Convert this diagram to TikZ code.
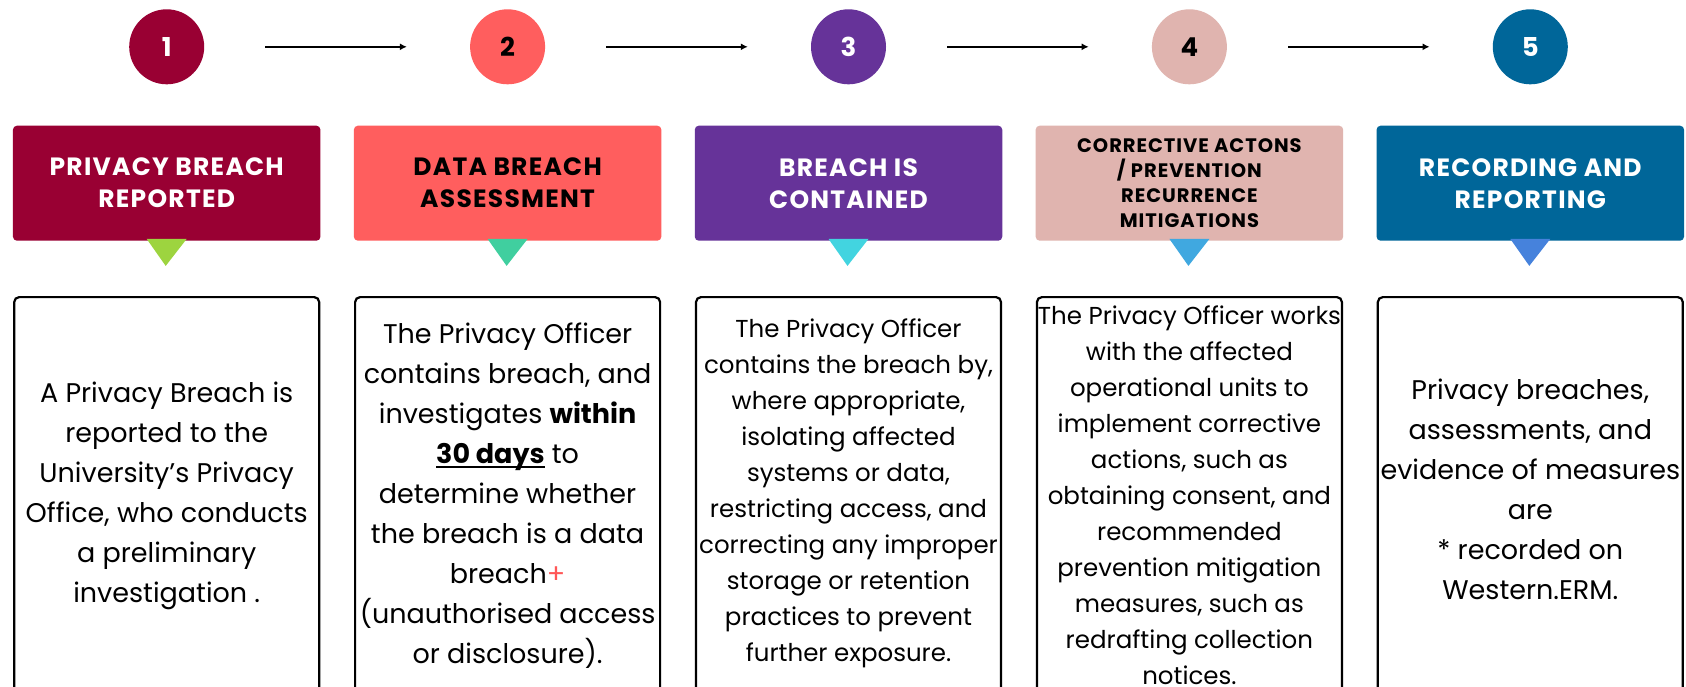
\documentclass[tikz,border=0pt]{standalone}
\usepackage{fontspec}
\setmainfont{Poppins}
\newfontfamily\headfont{Poppins}[LetterSpace=5]
\usetikzlibrary{arrows.meta}
\definecolor{cA}{HTML}{990033}
\definecolor{cB}{HTML}{FF5E5E}
\definecolor{cC}{HTML}{663399}
\definecolor{cD}{HTML}{E0B4AF}
\definecolor{cE}{HTML}{006699}
\definecolor{tA}{HTML}{9DD43F}
\definecolor{tB}{HTML}{40CF9F}
\definecolor{tC}{HTML}{42D4E0}
\definecolor{tD}{HTML}{40A8E0}
\definecolor{tE}{HTML}{4682DC}
\definecolor{cPlus}{HTML}{FF5757}
\newcommand\ulbox[1]{\setbox0\hbox{#1}\rlap{\rule[-4pt]{\wd0}{1.8pt}}\box0{}}
\begin{document}
\begin{tikzpicture}[x=1pt,y=-1pt,
  num/.style={circle,minimum size=75pt,inner sep=0pt,font=\fontsize{26}{30}\selectfont\bfseries},
  head/.style={rectangle,rounded corners=4pt,minimum width=307.5pt,minimum height=115pt,inner sep=0pt,align=center,font=\headfont\fontsize{25}{32}\selectfont\bfseries},
  heads/.style={head,font=\headfont\fontsize{19.5}{25}\selectfont\bfseries},
  frame/.style={draw=black,line width=2.2pt,rounded corners=5pt,minimum width=305pt,minimum height=404pt,inner sep=0pt,anchor=north},
  body/.style={align=center,inner sep=0pt,font=\fontsize{27}{40}\selectfont},
  bodys/.style={align=center,inner sep=0pt,font=\fontsize{24.5}{36}\selectfont},
  flow/.style={line width=2pt,-{Latex[length=7pt,width=7pt]}},
]
\clip (0,0) rectangle (1686,686);
\fill[white] (0,0) rectangle (1686,686);

% circles
\node[num,fill=cA,text=white] (n1) at (166.7,46.8) {1};
\node[num,fill=cB,text=black] (n2) at (507.6,46.8) {2};
\node[num,fill=cC,text=white] (n3) at (848.5,46.8) {3};
\node[num,fill=cD,text=black] (n4) at (1189.4,46.8) {4};
\node[num,fill=cE,text=white] (n5) at (1530.3,46.8) {5};

\draw[flow] ([xshift=61pt]n1.east) -- ([xshift=-63pt]n2.west);
\draw[flow] ([xshift=61pt]n2.east) -- ([xshift=-63pt]n3.west);
\draw[flow] ([xshift=61pt]n3.east) -- ([xshift=-63pt]n4.west);
\draw[flow] ([xshift=61pt]n4.east) -- ([xshift=-63pt]n5.west);

% header boxes
\node[head,fill=cA,text=white] (h1) at (166.7,183.2) {PRIVACY BREACH\\REPORTED};
\node[head,fill=cB,text=black] (h2) at (507.6,183.2) {DATA BREACH\\ASSESSMENT};
\node[head,fill=cC,text=white] (h3) at (848.5,183.2) {BREACH IS\\CONTAINED};
\node[heads,fill=cD,text=black] (h4) at (1189.4,183.2) {CORRECTIVE ACTONS\\/ PREVENTION\\RECURRENCE\\MITIGATIONS};
\node[head,fill=cE,text=white] (h5) at (1530.3,183.2) {RECORDING AND\\REPORTING};

% pointer triangles
\foreach \h/\c in {h1/tA,h2/tB,h3/tC,h4/tD,h5/tE}{
  \fill[\c] ([xshift=-20pt,yshift=2pt]\h.south) -- ([xshift=20pt,yshift=2pt]\h.south) -- ([xshift=-1pt,yshift=-25pt]\h.south) -- cycle;
}

% bottom frames
\node[frame] (b1) at (166.7,296) {};
\node[frame] (b2) at (507.6,296) {};
\node[frame] (b3) at (848.5,296) {};
\node[frame] (b4) at (1189.4,296) {};
\node[frame] (b5) at (1530.3,296) {};

% body texts
\node[body] (t1) at (166.7,496) {A Privacy Breach is\\reported to the\\University’s Privacy\\Office, who conducts\\a preliminary\\investigation .};
\node[body] (t2) at (507.6,496) {The Privacy Officer\\contains breach, and\\investigates \textbf{within}\\\ulbox{\textbf{30 days}} to\\determine whether\\the breach is a data\\breach{\color{cPlus}+}\\(unauthorised access\\or disclosure).};
\node[bodys] (t3) at (848.5,493.5) {The Privacy Officer\\contains the breach by,\\where appropriate,\\isolating affected\\systems or data,\\restricting access, and\\correcting any improper\\storage or retention\\practices to prevent\\further exposure.};
\node[bodys] (t4) at (1189.4,495) {The Privacy Officer works\\with the affected\\operational units to\\implement corrective\\actions, such as\\obtaining consent, and\\recommended\\prevention mitigation\\measures, such as\\redrafting collection\\notices.};
\node[body] (t5) at (1530.3,489.5) {Privacy breaches,\\assessments, and\\evidence of measures\\are\\* recorded on\\Western.ERM.};
\end{tikzpicture}
\end{document}
